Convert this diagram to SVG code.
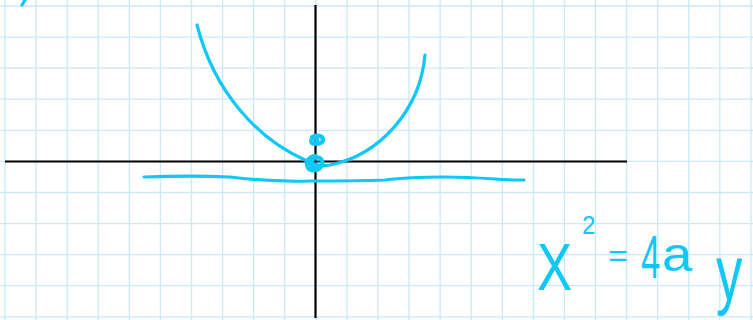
<svg xmlns="http://www.w3.org/2000/svg" width="753" height="320" viewBox="0 0 753 320">
<style>
.grid{stroke:#cbe8f8;stroke-width:1.3;fill:none}
.axis{stroke:#000;stroke-width:2.2;fill:none}
.ink{stroke:#10c8f6;stroke-width:3.2;fill:none;stroke-linecap:round;stroke-linejoin:round}
.blob{stroke:#10c8f6;stroke-width:4;fill:#10c8f6;fill-opacity:0.35;stroke-linecap:round;stroke-linejoin:round}
.eq{fill:#10c8f6;font-family:"Liberation Sans",Arial,sans-serif}
</style>
<rect width="753" height="320" fill="#fff"/>
<g id="grid">
<path class="grid" d="M5,0V320M36.1,0V320M67.2,0V320M98.2,0V320M129.3,0V320M160.4,0V320M191.5,0V320M222.6,0V320M253.6,0V320M284.7,0V320M315.8,0V320M346.9,0V320M378,0V320M409,0V320M440.1,0V320M471.2,0V320M502.3,0V320M533.4,0V320M564.4,0V320M595.5,0V320M626.6,0V320M657.7,0V320M688.8,0V320M719.8,0V320M750.9,0V320"/>
<path class="grid" d="M0,6H753M0,37.1H753M0,68.2H753M0,99.2H753M0,130.3H753M0,161.4H753M0,192.5H753M0,223.6H753M0,254.6H753M0,285.7H753M0,316.8H753"/>
</g>
<g id="axes">
<path class="axis" d="M5,161.5H627"/>
<path class="axis" d="M315.5,5V318"/>
</g>
<g id="marks">
<path class="ink" d="M22,5L25,0"/>
</g>
<g id="parabola">
<path class="ink" d="M197,25C215,95 260,140 305,160C312,164 318,167 330,165C380,155 420,110 425,55"/>
</g>
<g id="directrix">
<path class="ink" d="M144,177C170,176 210,176 230,177C255,180 280,182 310,181C340,181 360,181 385,180C400,178 420,177 445,177C465,177 480,178 495,179C505,180 515,180 524,180"/>
</g>
<g id="focus">
<path class="blob" d="M312,137C317,134 325,136 323,141C320,145 311,145 311,141C311,137 318,137 317,141"/>
<path class="blob" d="M316,156C308,156 305,163 308,168C311,172 320,171 322,165C324,159 318,155 313,159C309,162 311,168 316,167"/>
</g>
<g id="equation">
<text class="eq" transform="translate(537,290) scale(0.8,1)" font-size="66">X</text>
<text class="eq" transform="translate(582,234) scale(1,1.1)" font-size="24">2</text>
<text class="eq" transform="translate(608,266) scale(0.9,0.8)" font-size="38">=</text>
<text class="eq" transform="translate(641,278) scale(0.6,1.05)" font-size="58">4</text>
<text class="eq" transform="translate(662,271) scale(1.3,1.15)" font-size="42">a</text>
<text class="eq" transform="translate(716,300) scale(0.85,1.25)" font-size="62">y</text>
</g>
</svg>
